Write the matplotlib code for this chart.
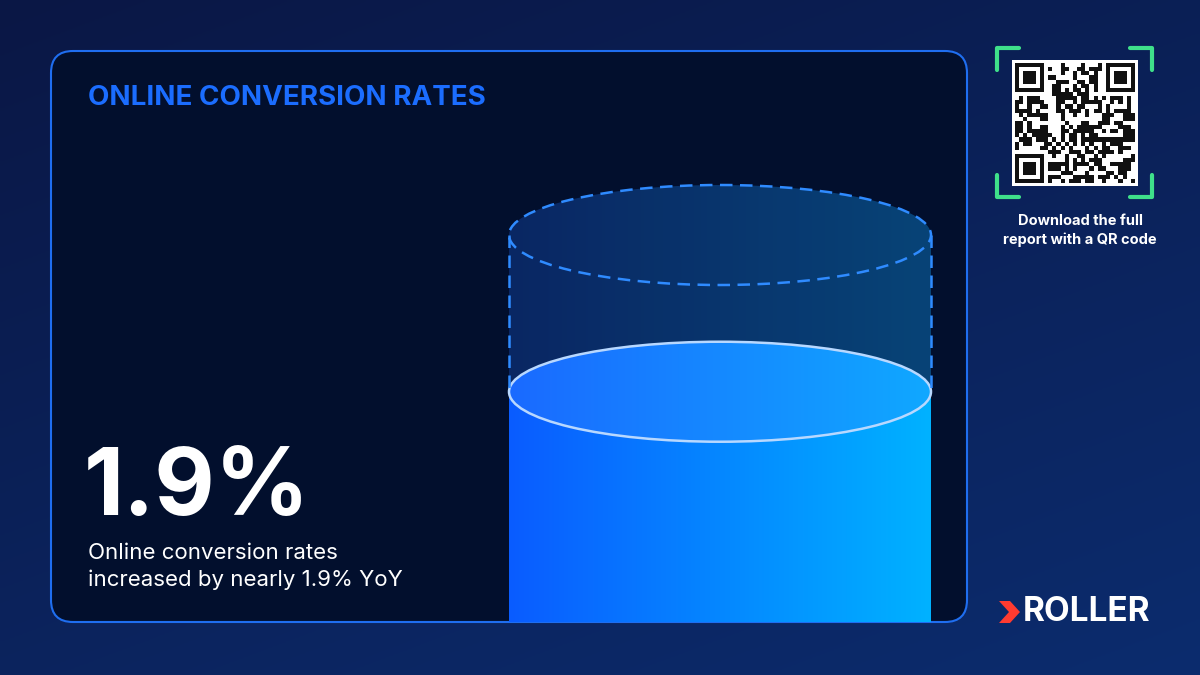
import numpy as np
import matplotlib
matplotlib.use("Agg")
import matplotlib.pyplot as plt
from matplotlib.patches import FancyBboxPatch, Ellipse, Rectangle, Polygon

title = "ONLINE CONVERSION RATES"
value_label = "1.9%"
desc_lines = ["Online conversion rates", "increased by nearly 1.9% YoY"]
qr_caption = ["Download the full", "report with a QR code"]
brand = "ROLLER"
fill_fraction = 0.70  # liquid level relative to cylinder top

W, H = 1200, 675
fig = plt.figure(figsize=(12, 6.75), dpi=100)
ax = fig.add_axes([0, 0, 1, 1])
ax.set_xlim(0, W); ax.set_ylim(H, 0); ax.axis("off")
plt.rcParams['font.family'] = ['Inter', 'DejaVu Sans']

g = np.linspace(0, 1, 256)
c0 = np.array([0x0a, 0x17, 0x45]) / 255; c1 = np.array([0x0c, 0x2c, 0x6e]) / 255
yy, xx = np.meshgrid(g, g, indexing="ij")
t = (0.6 * yy + 0.4 * xx)[..., None]
bg = c0 * (1 - t) + c1 * t
ax.imshow(bg, extent=[0, W, H, 0], zorder=0, aspect="auto")

panel = FancyBboxPatch((51, 51), 916, 571, boxstyle="round,pad=0,rounding_size=22",
                       fc="#020f2d", ec="#1f6ef0", lw=1.5, zorder=1)
ax.add_patch(panel)

ax.text(88, 98, title, color="#1b6dff", fontsize=20, fontweight="bold", va="center", zorder=5)
ax.text(84, 490, value_label, color="white", fontsize=67, fontweight="bold", va="center", zorder=5)
ax.text(88, 553, desc_lines[0], color="white", fontsize=16, va="center", zorder=5)
ax.text(88, 580, desc_lines[1], color="white", fontsize=16, va="center", zorder=5)

cx, rx, ry = 720, 211, 50
top_y, bot_y = 235, 622
liq_y = top_y + (bot_y - top_y) * (1 - fill_fraction) * 1.35

grad = np.linspace(0, 1, 256)[None, :]
e0 = np.array([0x0b, 0x2a, 0x6a]) / 255; e1 = np.array([0x08, 0x4a, 0x80]) / 255
img_e = np.repeat(e0 * (1 - grad[..., None]) + e1 * grad[..., None], 4, axis=0)
th = np.linspace(0, np.pi, 100)
upper = np.column_stack([cx - rx * np.cos(th), top_y - ry * np.sin(th)])
lower = np.column_stack([cx + rx * np.cos(th), liq_y + ry * np.sin(th)])
poly_e = Polygon(np.vstack([upper, lower]), closed=True, fc="none", ec="none")
ax.add_patch(poly_e)
im = ax.imshow(img_e, extent=[cx - rx, cx + rx, liq_y + ry, top_y - ry], zorder=2, aspect="auto", alpha=0.9)
im.set_clip_path(poly_e)

l0 = np.array([0x0a, 0x5c, 0xff]) / 255; l1 = np.array([0x00, 0xb2, 0xff]) / 255
img_l = np.repeat(l0 * (1 - grad[..., None]) + l1 * grad[..., None], 4, axis=0)
liq = np.vstack([[[cx - rx, liq_y], [cx - rx, bot_y], [cx + rx, bot_y], [cx + rx, liq_y]],
                 np.column_stack([cx + rx * np.cos(th), liq_y + ry * np.sin(th)])])
poly_l = Polygon(liq, closed=True, fc="none", ec="none")
ax.add_patch(poly_l)
im2 = ax.imshow(img_l, extent=[cx - rx, cx + rx, bot_y, liq_y], zorder=3, aspect="auto")
im2.set_clip_path(poly_l)
t0 = np.array([0x1a, 0x6a, 0xff]) / 255; t1 = np.array([0x10, 0xa8, 0xff]) / 255
img_t = np.repeat(t0 * (1 - grad[..., None]) + t1 * grad[..., None], 4, axis=0)
el = Ellipse((cx, liq_y), 2 * rx, 2 * ry, fc="none", ec="#b8d8ff", lw=1.8, zorder=4)
ax.add_patch(el)
im3 = ax.imshow(img_t, extent=[cx - rx, cx + rx, liq_y + ry, liq_y - ry], zorder=3.5, aspect="auto")
im3.set_clip_path(el)

ax.add_patch(Ellipse((cx, top_y), 2 * rx, 2 * ry, fc="none", ec="#2f8bff", lw=1.8, ls=(0, (5, 3)), zorder=4))
ax.plot([cx - rx, cx - rx], [top_y, liq_y], color="#2f8bff", lw=1.8, ls=(0, (5, 3)), zorder=4)
ax.plot([cx + rx, cx + rx], [top_y, liq_y], color="#2f8bff", lw=1.8, ls=(0, (5, 3)), zorder=4)

green = "#3fe08a"
x0, y0, x1, y1 = 997, 48, 1152, 197
L = 22
for (px, py, dx, dy) in [(x0, y0, 1, 1), (x1, y0, -1, 1), (x0, y1, 1, -1), (x1, y1, -1, -1)]:
    ax.plot([px + dx * L, px, px], [py, py, py + dy * L], color=green, lw=3, solid_capstyle="round", zorder=5)
qx0, qy0, qs = 1015, 63, 120
n = 29
cell = qs / n
ax.add_patch(Rectangle((qx0 - 3, qy0 - 3), qs + 6, qs + 6, fc="white", ec="none", zorder=5))
bits = []
s = 0x5A3C
for i in range(n * n):
    s = (s * 1103515245 + 12345) & 0x7fffffff
    bits.append((s >> 16) & 1)
M = np.array(bits).reshape(n, n)
def finder(r, c):
    M[r:r+7, c:c+7] = 1
    M[r+1:r+6, c+1:c+6] = 0
    M[r+2:r+5, c+2:c+5] = 1
for (r, c) in [(0, 0), (0, n - 7), (n - 7, 0)]:
    M[max(r-1, 0):r+8, max(c-1, 0):c+8] = 0
    finder(r, c)
for r in range(n):
    for c in range(n):
        if M[r, c]:
            ax.add_patch(Rectangle((qx0 + c * cell, qy0 + r * cell), cell, cell, fc="#111111", ec="none", zorder=6))

ax.text(1080, 221, qr_caption[0], color="white", fontsize=10.5, fontweight="bold", ha="center", va="center")
ax.text(1080, 240, qr_caption[1], color="white", fontsize=10.5, fontweight="bold", ha="center", va="center")

ax.add_patch(Polygon([[999, 601], [1010, 601], [1020, 612], [1010, 623], [999, 623], [1009, 612]],
                     closed=True, fc="#ff3b30", ec="none", zorder=5))
ax.text(1023, 612, brand, color="white", fontsize=24, fontweight="bold", va="center", zorder=5)

fig.savefig("out.png", dpi=100)
